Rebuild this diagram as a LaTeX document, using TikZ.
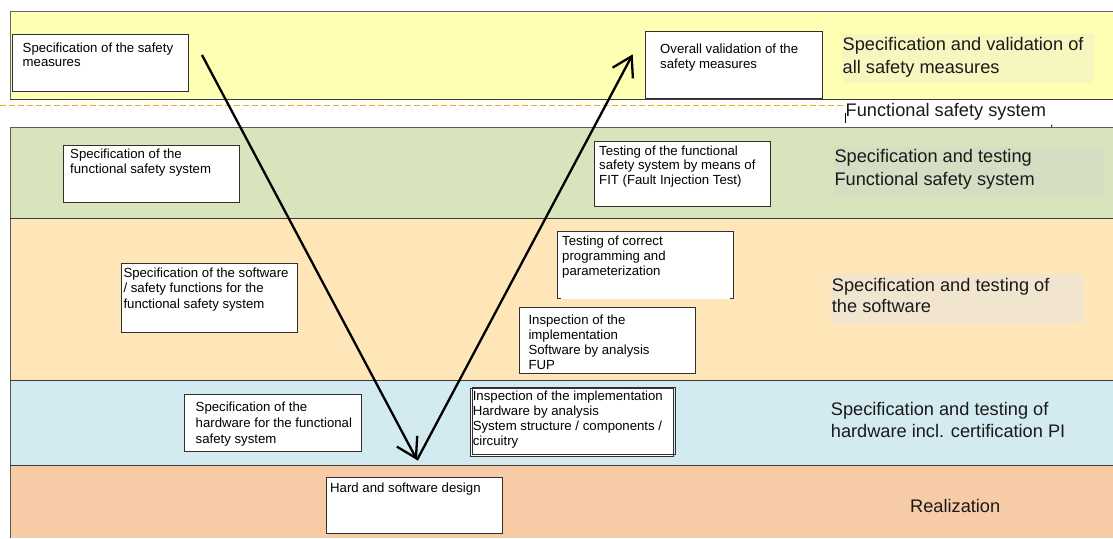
\documentclass[tikz,border=0pt]{standalone}
\usepackage{fontspec}
\setmainfont{Liberation Sans}
\usetikzlibrary{arrows.meta}
\definecolor{cyellow}{HTML}{FFFFB3}
\definecolor{cyellowhl}{HTML}{F6F6BE}
\definecolor{cgreen}{HTML}{D8E4BC}
\definecolor{cgreenhl}{HTML}{D5DDC2}
\definecolor{cbeige}{HTML}{FFE6B9}
\definecolor{cbeigehl}{HTML}{F2E5CF}
\definecolor{cblue}{HTML}{D2EAF0}
\definecolor{csalmon}{HTML}{F8CBA7}
\definecolor{bandline}{HTML}{3A3A3A}
\definecolor{boxline}{HTML}{303030}
\definecolor{dashcol}{RGB}{245,176,0}
\definecolor{labeltext}{HTML}{1A1A1A}
\begin{document}
\begin{tikzpicture}[x=1pt,y=-1pt,
  band/.style={draw=bandline, line width=0.8pt},
  box/.style={draw=boxline, fill=white, line width=0.9pt, anchor=north west, inner sep=0pt},
  nobox/.style={fill=white, anchor=north west, inner sep=0pt},
  txt/.style={anchor=north west, inner sep=0pt, align=left, font=\fontsize{13.2}{15}\selectfont},
  lbl/.style={anchor=north west, inner sep=0pt, align=left, font=\fontsize{18.2}{22.3}\selectfont, text=labeltext},
  vline/.style={line width=2.3pt, black},
  tipped/.style={-{Straight Barb[length=19pt,width=23pt]}},
  dashpiece/.style={fill=dashcol}
]
\useasboundingbox (0,0) rectangle (1113,538);
% bands
\fill[cyellow] (10,11) rectangle (1113,99);
\fill[cgreen] (10,127) rectangle (1113,218.5);
\fill[cbeige] (10,218.5) rectangle (1113,380);
\fill[cblue] (10,380) rectangle (1113,465);
\fill[csalmon] (10,465) rectangle (1113,538);
\draw[band, draw=gray!80!black] (1113,11) -- (10,11) -- (10,99);
\draw[band] (10,99) -- (1113,99);
\draw[band, draw=gray!70!black] (1113,127) -- (10,127) -- (10,538);
\draw[band] (10,218.5) -- (1113,218.5);
\draw[band] (10,380) -- (1113,380);
\draw[band] (10,465) -- (1113,465);
% label highlights
\fill[cyellowhl] (841.7,34) rectangle (1094,82.6);
\fill[cgreenhl] (834,146.7) rectangle (1104,196);
\fill[cbeigehl] (831,274) rectangle (1083.3,322.7);
% dashed line (drawn as short pieces)
\foreach \dx in {0,9,...,837} {\fill[dashpiece] (\dx,104.6) rectangle ++(5.5,1.5);}
\draw[black, line width=0.6pt] (845,112.7) -- (845,123.3);
\draw[black, line width=0.8pt] (1052,124.5) -- (1051.5,127);
% boxes
\node[box, minimum width=176pt, minimum height=56.7pt] (b1) at (11.7,34.3) {};
\node[txt] (t1) at (22.5,42.7) {Specification of the safety\\[-0.6pt]measures};
\node[box, minimum width=176.4pt, minimum height=67pt] (b2) at (645.3,30.6) {};
\node[txt] (t2) at (660,43.6) {Overall validation of the\\[-0.2pt]safety measures};
\node[box, minimum width=176.6pt, minimum height=56.7pt] (b3) at (62.7,145) {};
\node[txt] (t3) at (70,148.7) {Specification of the\\functional safety system};
\node[box, minimum width=175.7pt, minimum height=65.3pt] (b4) at (594.3,140.7) {};
\node[txt] (t4) at (599,145.4) {Testing of the functional\\[-0.5pt]safety system by means of\\[-0.5pt]FIT (Fault Injection Test)};
\node[nobox, minimum width=176pt, minimum height=66.6pt] (b5) at (557.3,231.7) {};
\draw[boxline, line width=0.9pt] (b5.south west) -- (b5.north west) -- (b5.north east) -- (b5.south east);
\draw[boxline, line width=0.9pt] (b5.south west) -- ++(4,0);
\draw[boxline, line width=0.9pt] (b5.south east) -- ++(-4,0);
\node[txt] (t5) at (562,235.4) {Testing of correct\\programming and\\parameterization};
\node[box, minimum width=176pt, minimum height=66pt] (b6) at (519,307.3) {};
\node[txt] (t6) at (528.3,314.4) {Inspection of the\\implementation\\Software by analysis\\FUP};
\node[box, minimum width=202.7pt, minimum height=67.7pt] (b8a) at (470,388.3) {};
\node[box, fill=none, minimum width=202.7pt, minimum height=67.6pt] (b8b) at (472.3,386.7) {};
\node[txt] (t8) at (472.6,390.4) {Inspection of the implementation\\Hardware by analysis\\System structure / components /\\circuitry};
\node[box, minimum width=176.4pt, minimum height=57pt] (b7) at (184.3,394) {};
\node[txt, font=\fontsize{13.2}{16}\selectfont] (t7) at (195.5,401.4) {Specification of the\\hardware for the functional\\safety system};
\node[box, minimum width=176pt, minimum height=56.6pt] (b9) at (325.7,476.7) {};
\node[txt] (t9) at (330,482.7) {Hard and software design};
\node[box, minimum width=176pt, minimum height=69pt] (b10) at (120.7,263.3) {};
\node[txt, font=\fontsize{13.2}{15.5}\selectfont] (t10) at (123.3,267.7) {Specification of the software\\/ safety functions for the\\functional safety system};
% right labels
\node[lbl, font=\fontsize{18.2}{22.8}\selectfont] (l1) at (842.5,37) {Specification and validation of\\all safety measures};
\node[lbl] (l2) at (845.5,102.7) {Functional safety system};
\node[lbl] (l3) at (834.3,149.4) {Specification and testing\\Functional safety system};
\node[lbl, font=\fontsize{18.2}{21.5}\selectfont] (l4) at (831.7,277.7) {Specification and testing of\\the software};
\node[lbl] (l5) at (830.7,401.7) {Specification and testing of\\hardware incl. certification PI};
\node[lbl] (l6) at (910,499) {Realization};
% V arrows
\coordinate (vtopL) at (202,55);
\coordinate (vbot) at (417,460);
\coordinate (vtopR) at (632.7,54.3);
\draw[vline, tipped] (vtopL) -- (vbot);
\draw[vline, tipped] (vbot) -- (vtopR);
\end{tikzpicture}
\end{document}
